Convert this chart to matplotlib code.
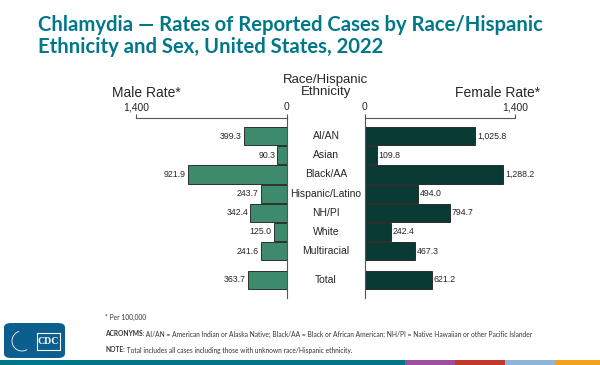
import matplotlib.pyplot as plt
from matplotlib.patches import FancyBboxPatch, Rectangle, Arc

# data
categories = ['AI/AN', 'Asian', 'Black/AA', 'Hispanic/Latino', 'NH/PI', 'White', 'Multiracial', 'Total']
male_rate = [399.3, 90.3, 921.9, 243.7, 342.4, 125.0, 241.6, 363.7]
female_rate = [1025.8, 109.8, 1288.2, 494.0, 794.7, 242.4, 467.3, 621.2]
ypos = [0, 1, 2, 3, 4, 5, 6, 7.5]

male_col = '#3d8a6c'
female_col = '#0a3a34'
title_col = '#00788a'
txt_col = '#262626'

W, H = 600, 365
fig = plt.figure(figsize=(6, 3.65), dpi=100)
plt.rcParams['font.family'] = ['Liberation Sans', 'DejaVu Sans']
renderer = fig.canvas.get_renderer()


def fx(x):
    return x / W


def fy(y):
    return 1 - y / H


def px_axes(x0, y0, x1, y1):
    return fig.add_axes([fx(x0), fy(y1), (x1 - x0) / W, (y1 - y0) / H])


axm = px_axes(136, 118, 287, 298)
axf = px_axes(365, 118, 515, 298)

for ax, vals, col in [(axm, male_rate, male_col), (axf, female_rate, female_col)]:
    ax.barh(ypos, vals, height=0.95, color=col, edgecolor='#1a1a1a', linewidth=0.6)
    ax.set_ylim(8.45, -0.95)
    ax.set_yticks([])
    ax.xaxis.tick_top()
    ax.set_xticks([0, 1400])
    ax.set_xticklabels(['0', '1,400'], fontsize=7.5, color=txt_col)
    ax.tick_params(axis='x', length=3, width=0.8, pad=1, color='#555555')
    for s in ['bottom', 'left', 'right']:
        ax.spines[s].set_visible(False)
    ax.spines['top'].set_color('#555555')
    ax.patch.set_alpha(0)

axm.set_xlim(1400, 0)
axf.set_xlim(0, 1400)
axm.spines['right'].set_visible(True)
axm.spines['right'].set_color('#555555')
axf.spines['left'].set_visible(True)
axf.spines['left'].set_color('#555555')

for y, v in zip(ypos, male_rate):
    axm.text(v + 18, y, f'{v:,.1f}', ha='right', va='center', fontsize=6.3, color=txt_col)
for y, v in zip(ypos, female_rate):
    axf.text(v + 18, y, f'{v:,.1f}', ha='left', va='center', fontsize=6.3, color=txt_col)

# category labels in the middle
for y, c in zip(ypos, categories):
    ym = 118 + (y + 0.95) / 9.4 * 180
    fig.text(fx(326), fy(ym), c, ha='center', va='center', fontsize=7.5, color=txt_col)

# headers
fig.text(fx(146), fy(93), 'Male Rate*', ha='center', va='center', fontsize=10, color=txt_col)
fig.text(fx(498), fy(93), 'Female Rate*', ha='center', va='center', fontsize=10, color=txt_col)
fig.text(fx(326), fy(86), 'Race/Hispanic\nEthnicity', ha='center', va='center', fontsize=9.5,
         color=txt_col, linespacing=1.05)

# title - size it so the first line is as wide as in the reference
title_kw = dict(ha='left', va='baseline', fontweight='bold', color=title_col, family=['Lato', 'DejaVu Sans'])
t1 = fig.text(fx(38), fy(31), 'Chlamydia \u2014 Rates of Reported Cases by Race/Hispanic', fontsize=14, **title_kw)
size = 14 * 507 / t1.get_window_extent(renderer).width
t1.set_fontsize(size)
fig.text(fx(38), fy(53), 'Ethnicity and Sex, United States, 2022', fontsize=size, **title_kw)

# footnotes
foot = dict(va='center', color='#333333', family=['Lato', 'DejaVu Sans'])
fs = 4.8
fig.text(fx(105), fy(317), '* Per 100,000', fontsize=fs, **foot)
for y, head, rest in [(334, 'ACRONYMS:', ' AI/AN = American Indian or Alaska Native; Black/AA = Black or African American; NH/PI = Native Hawaiian or other Pacific Islander'),
                      (350, 'NOTE:', ' Total includes all cases including those with unknown race/Hispanic ethnicity.')]:
    tb = fig.text(fx(105), fy(y), head, fontsize=fs, fontweight='bold', **foot)
    wb = tb.get_window_extent(renderer).width
    fig.text(fx(105 + wb), fy(y), rest, fontsize=fs, **foot)

# CDC logo
fig.patches.append(FancyBboxPatch((fx(4), fy(358)), 61 / W, 35 / H, boxstyle='round,pad=0,rounding_size=0.012',
                                  transform=fig.transFigure, facecolor='#0b5e8e', edgecolor='none'))
fig.patches.append(Arc((fx(22), fy(341)), 20 / W, 20 / H, theta1=100, theta2=290, transform=fig.transFigure,
                       color='white', lw=0.6))
fig.patches.append(Rectangle((fx(37), fy(350)), 23 / W, 17 / H, transform=fig.transFigure,
                             facecolor='none', edgecolor='white', lw=0.8))
fig.text(fx(48.5), fy(341), 'CDC', ha='center', va='center', fontsize=7, fontweight='bold',
         color='white', family=['Liberation Serif', 'DejaVu Serif'])

# bottom color stripe
stripes = [(0, 405, '#00788a'), (405, 455, '#9b4f9c'), (455, 505, '#c0392b'),
           (505, 555, '#8fb5d8'), (555, 600, '#f2a31b')]
for x0, x1, c in stripes:
    fig.patches.append(Rectangle((fx(x0), 0), (x1 - x0) / W, 5 / H, transform=fig.transFigure,
                                 facecolor=c, edgecolor='none'))

fig.savefig('out.png', dpi=100, facecolor='white')
